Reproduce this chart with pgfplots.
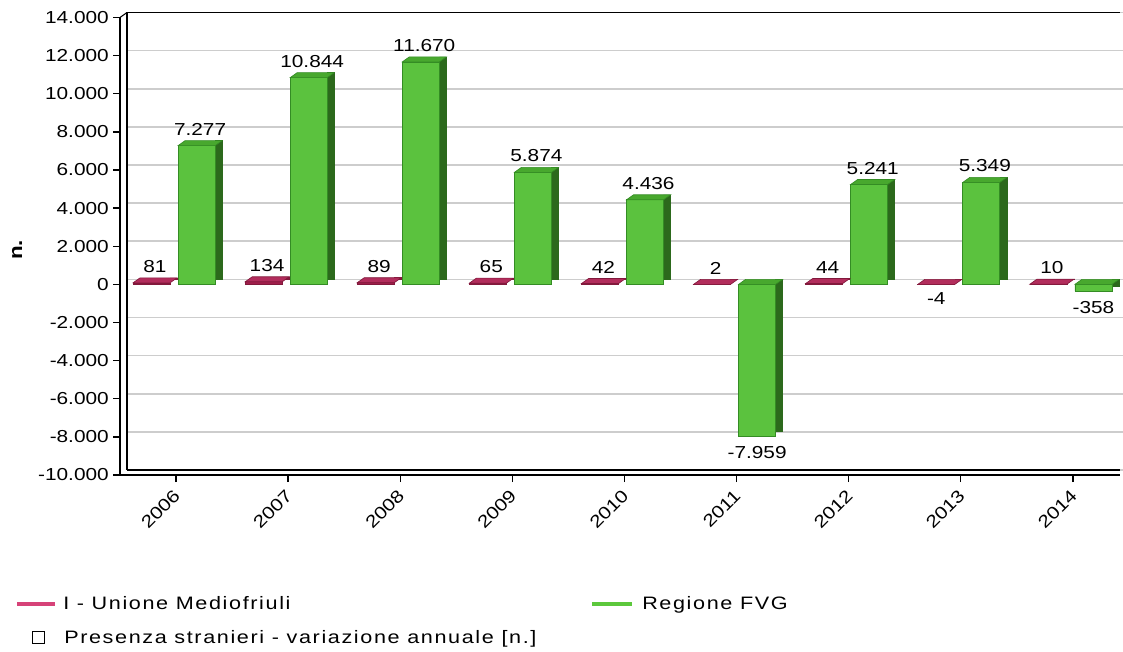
\documentclass[border=0pt]{standalone}
\usepackage{fontspec}
\setmainfont[FakeStretch=1.2]{Liberation Sans}
\newfontfamily\legfont[FakeStretch=1.2,LetterSpace=9]{Liberation Sans}
\usepackage{pgfplots}
\usepackage{pgfplotstable}
\pgfplotsset{compat=1.18}

\definecolor{gfront}{RGB}{91,194,62}
\definecolor{gedge}{RGB}{52,140,36}
\definecolor{gside}{RGB}{44,105,28}
\definecolor{gtopc}{RGB}{72,168,46}
\definecolor{pfront}{RGB}{160,30,75}
\definecolor{ptopc}{RGB}{178,45,92}
\definecolor{pedge}{RGB}{130,25,60}
\definecolor{pleg}{RGB}{214,66,120}
\definecolor{gleg}{RGB}{92,200,60}
\definecolor{gridc}{RGB}{205,205,205}

% top faces of the 3D bars (offsets relative to category centre)
\pgfdeclareplotmark{ptop}{%
  \pgfpathmoveto{\pgfqpoint{-32.25pt}{0pt}}%
  \pgfpathlineto{\pgfqpoint{-4.5pt}{0pt}}%
  \pgfpathlineto{\pgfqpoint{0.75pt}{3.75pt}}%
  \pgfpathlineto{\pgfqpoint{-27pt}{3.75pt}}%
  \pgfpathclose\pgfusepathqfillstroke}
\pgfdeclareplotmark{gtop}{%
  \pgfpathmoveto{\pgfqpoint{1.5pt}{0pt}}%
  \pgfpathlineto{\pgfqpoint{29.25pt}{0pt}}%
  \pgfpathlineto{\pgfqpoint{34.5pt}{3.75pt}}%
  \pgfpathlineto{\pgfqpoint{6.75pt}{3.75pt}}%
  \pgfpathclose\pgfusepathqfillstroke}

\pgfplotstableread{
x u ul f fl
0 81 81 7277 7.277
1 134 134 10844 10.844
2 89 89 11670 11.670
3 65 65 5874 5.874
4 42 42 4436 4.436
5 2 2 -7959 -7.959
6 44 44 5241 5.241
7 -4 -4 5349 5.349
8 10 10 -358 -358
}\data

\begin{document}
\begin{tikzpicture}
\useasboundingbox (0,0) rectangle (842.25pt,488.25pt);
\begin{axis}[
  at={(90pt,132pt)}, anchor=south west,
  scale only axis, width=750pt, height=343.125pt,
  xmin=-0.5, xmax=8.42, ymin=-10000, ymax=14000,
  enlargelimits=false, clip=false,
  axis x line*=bottom, axis y line*=left,
  axis line style={-, line width=1.2pt, black},
  xtick={0,1,2,3,4,5,6,7,8},
  xticklabels={2006,2007,2008,2009,2010,2011,2012,2013,2014},
  ytick={-10000,-8000,-6000,-4000,-2000,0,2000,4000,6000,8000,10000,12000,14000},
  tick align=outside, major tick length=5.25pt,
  tick style={black, line width=1pt},
  ymajorgrids,
  major grid style={gridc, line width=1.3pt, xshift=5.25pt, yshift=3.75pt},
  scaled y ticks=false,
  /pgf/number format/assume math mode=true,
  /pgf/number format/1000 sep={.},
  yticklabel style={font=\fontsize{13}{15}\selectfont, inner sep=3pt},
  xticklabel style={font=\fontsize{13}{15}\selectfont, inner sep=0pt, xshift=0.75pt, yshift=-8pt, rotate=45, anchor=east},
  ylabel={n.},
  every axis y label/.style={at={(axis description cs:-0.103,0.492)}, rotate=90, anchor=center, font=\bfseries\fontsize{14}{16}\selectfont},
  nodes near coords style={font=\fontsize{13}{15}\selectfont, inner sep=3pt, black},
  legend columns=2,
  legend cell align=left,
  legend style={at={(-0.105,-0.264)}, anchor=north west, draw=none, fill=none,
    inner sep=0pt, row sep=14.5pt, column sep=0pt, nodes={inner sep=0pt},
    font=\legfont\fontsize{13.5}{16}\selectfont},
]
% side faces
\addplot[ybar, bar width=5.25pt, bar shift=-1.875pt, fill=pedge, draw=pedge, line width=0.4pt, yshift=3.75pt, forget plot] table[x=x,y=u]{\data};
\addplot[ybar, bar width=5.25pt, bar shift=31.875pt, fill=gside, draw=gside, line width=0.4pt, yshift=3.75pt, forget plot] table[x=x,y=f]{\data};
% front faces
\addplot[ybar, bar width=27.75pt, bar shift=-18.375pt, fill=pfront, draw=pedge, line width=0.5pt, forget plot] table[x=x,y=u]{\data};
\addplot[ybar, bar width=27.75pt, bar shift=15.375pt, fill=gfront, draw=gedge, line width=0.5pt, forget plot] table[x=x,y=f]{\data};
% top faces
\addplot[only marks, mark=ptop, mark options={fill=ptopc, draw=pedge, line width=0.5pt}, forget plot] table[x=x, y expr={max(\thisrow{u},0)}]{\data};
\addplot[only marks, mark=gtop, mark options={fill=gtopc, draw=gedge, line width=0.5pt}, forget plot] table[x=x, y expr={max(\thisrow{f},0)}]{\data};
% value labels
\addplot[ybar, bar width=27.75pt, bar shift=-18.375pt, draw=none, fill=none, forget plot,
  point meta=explicit symbolic, nodes near coords, restrict y to domain=0:20000,
  every node near coord/.append style={anchor=south, xshift=-15.8pt, yshift=4.5pt}] table[x=x,y=u,meta=ul]{\data};
\addplot[ybar, bar width=27.75pt, bar shift=-18.375pt, draw=none, fill=none, forget plot,
  point meta=explicit symbolic, nodes near coords, restrict y to domain=-20000:-0.001,
  every node near coord/.append style={anchor=north, xshift=-18.375pt, yshift=-3pt}] table[x=x,y=u,meta=ul]{\data};
\addplot[ybar, bar width=27.75pt, bar shift=15.375pt, draw=none, fill=none, forget plot,
  point meta=explicit symbolic, nodes near coords, restrict y to domain=0:20000,
  every node near coord/.append style={anchor=south, xshift=18pt, yshift=4.5pt}] table[x=x,y=f,meta=fl]{\data};
\addplot[ybar, bar width=27.75pt, bar shift=15.375pt, draw=none, fill=none, forget plot,
  point meta=explicit symbolic, nodes near coords, restrict y to domain=-20000:-0.001,
  every node near coord/.append style={anchor=north, xshift=15.375pt, yshift=-4.5pt}] table[x=x,y=f,meta=fl]{\data};
% frame: front lines and back wall
\draw[line width=1.2pt, black] (rel axis cs:0,1) -- (rel axis cs:0,0) -- (rel axis cs:1,0);
\draw[line width=1.2pt, black]
  ([xshift=5.25pt,yshift=3.75pt]rel axis cs:0,0) -- ([xshift=5.25pt,yshift=3.75pt]rel axis cs:0,1)
  -- ([yshift=3.75pt]rel axis cs:1,1);
\draw[line width=1.2pt, black]
  ([xshift=5.25pt,yshift=3.75pt]rel axis cs:0,0) -- ([yshift=3.75pt]rel axis cs:1,0);
\draw[line width=0.8pt, black] (rel axis cs:0,1) -- ([xshift=5.25pt,yshift=3.75pt]rel axis cs:0,1);
% legend
\addlegendimage{legend image code/.code={\draw[pleg, line width=3pt] (0pt,0pt) -- (28.5pt,0pt);}}
\addlegendentry{\makebox[399.75pt][l]{\hspace{4.5pt}I - Unione Mediofriuli}}
\addlegendimage{legend image code/.code={\draw[gleg, line width=3pt] (0pt,0pt) -- (30pt,0pt);}}
\addlegendentry{\hspace{6pt}Regione FVG}
\addlegendimage{legend image code/.code={\path[draw=none,fill=none] (-1.5pt,0pt) -- (30pt,0pt); \draw[black, line width=0.8pt, fill=white] (11.25pt,-4.5pt) rectangle (20.25pt,4.5pt);}}
\addlegendentry{\hspace{5.25pt}Presenza stranieri - variazione annuale [n.]}
\end{axis}
\end{tikzpicture}
\end{document}
